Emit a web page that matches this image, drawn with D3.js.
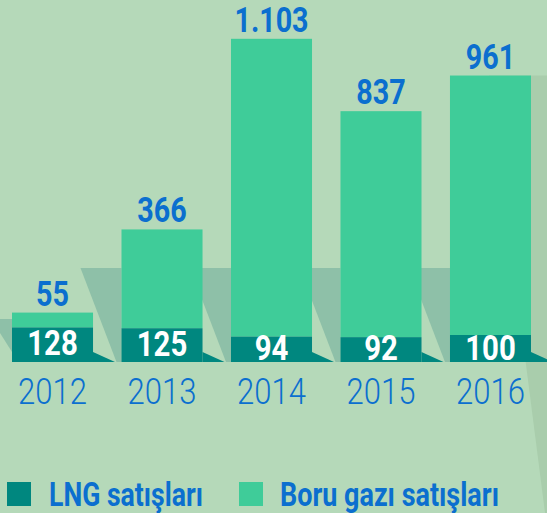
<!DOCTYPE html>
<html>
<head>
<meta charset="utf-8">
<script src="https://cdn.jsdelivr.net/npm/d3@7"></script>
<style>
  html, body { margin: 0; padding: 0; background: #b5d9b9; }
  svg { display: block; }
  text { font-family: Roboto, "Liberation Sans", "DejaVu Sans Condensed", sans-serif; }
</style>
</head>
<body>
<svg id="chart" width="547" height="513"></svg>
<script>
// ---- data ----
const years = ["2012", "2013", "2014", "2015", "2016"];
const lngSales = [128, 125, 94, 92, 100];
const pipeSales = [55, 366, 1103, 837, 961];
const seriesNames = ["LNG satışları", "Boru gazı satışları"];

// ---- styles ----
const colors = { bg: "#b5d9b9", lng: "#00877f", pipe: "#3fcc99", shadow: "#8ec0a8", shadow2: "#a9cdac", text: "#0b6fcf" };

const W = 547, H = 513;
const svg = d3.select("#chart");
const trFormat = d3.formatLocale({ decimal: ",", thousands: ".", grouping: [3], currency: ["", "₺"] }).format(",d");

const x = d3.scaleBand().domain(years).range([12, 531]).paddingInner(0.26).paddingOuter(0);
const y = d3.scaleLinear().domain([0, 1200]).range([362, 38]);
const bw = x.bandwidth();
const base = y(0);

svg.append("rect").attr("width", W).attr("height", H).attr("fill", colors.bg);

// large subtle shadow on the right
const slope = 7.8;
const lineX = yy => 526.7 + (yy - 370) / slope;
const topY = y(lngSales[4] + pipeSales[4]);
svg.append("polygon")
  .attr("points", [[lineX(topY), topY], [W, topY], [W, H], [lineX(H), H]].map(p => p.join(",")).join(" "))
  .attr("fill", colors.shadow2);

// band shadows between bars
const bandTop = 268;
years.forEach((yr, i) => {
  const left = x(yr);
  let pts;
  if (i === 0) {
    pts = [[0, 319], [left, 319], [left, 352], [0, 333]];
  } else {
    pts = [[left - 41, bandTop], [left, bandTop], [left, base], [left - 5, base]];
  }
  svg.append("polygon").attr("points", pts.map(p => p.join(",")).join(" ")).attr("fill", colors.shadow);
});

// condensed text helper
function ctext(sel, cx, cy, txt, size, weight, fill, sx, anchor) {
  return sel.append("text")
    .attr("transform", `translate(${cx},${cy}) scale(${sx},1)`)
    .attr("text-anchor", anchor || "middle")
    .attr("font-size", size).attr("font-weight", weight)
    .attr("fill", fill).text(txt);
}

// bars
const g = svg.append("g");
years.forEach((yr, i) => {
  const left = x(yr);
  const cx = left + bw / 2;
  const lTop = y(lngSales[i]);
  const pTop = y(lngSales[i] + pipeSales[i]);
  // LNG flap
  g.append("polygon")
    .attr("points", [[left + bw, base - 10], [left + bw + 22, base], [left + bw, base]].map(p => p.join(",")).join(" "))
    .attr("fill", colors.lng);
  g.append("rect").attr("x", left).attr("y", pTop).attr("width", bw).attr("height", lTop - pTop).attr("fill", colors.pipe);
  g.append("rect").attr("x", left).attr("y", lTop).attr("width", bw).attr("height", base - lTop).attr("fill", colors.lng);

  ctext(g, cx, pTop - 7, trFormat(pipeSales[i]), 35, "bold", colors.text, 0.82);
  ctext(g, cx, Math.min(lTop + 28, 360), trFormat(lngSales[i]), 35, "bold", "#ffffff", 0.84);
  ctext(g, cx, 403.5, yr, 37, 300, colors.text, 0.84);
});

// legend
const legend = svg.append("g");
const legendItems = [
  { name: seriesNames[0], color: colors.lng, sx: 7, tx: 49, len: 154 },
  { name: seriesNames[1], color: colors.pipe, sx: 239, tx: 280, len: 219 }
];
legendItems.forEach(d => {
  legend.append("rect").attr("x", d.sx).attr("y", 482).attr("width", 24).attr("height", 24).attr("fill", d.color);
  legend.append("text").attr("x", d.tx).attr("y", 506).attr("font-size", 33).attr("font-weight", "bold")
    .attr("fill", colors.text).attr("textLength", d.len).attr("lengthAdjust", "spacingAndGlyphs").text(d.name);
});
</script>
</body>
</html>
